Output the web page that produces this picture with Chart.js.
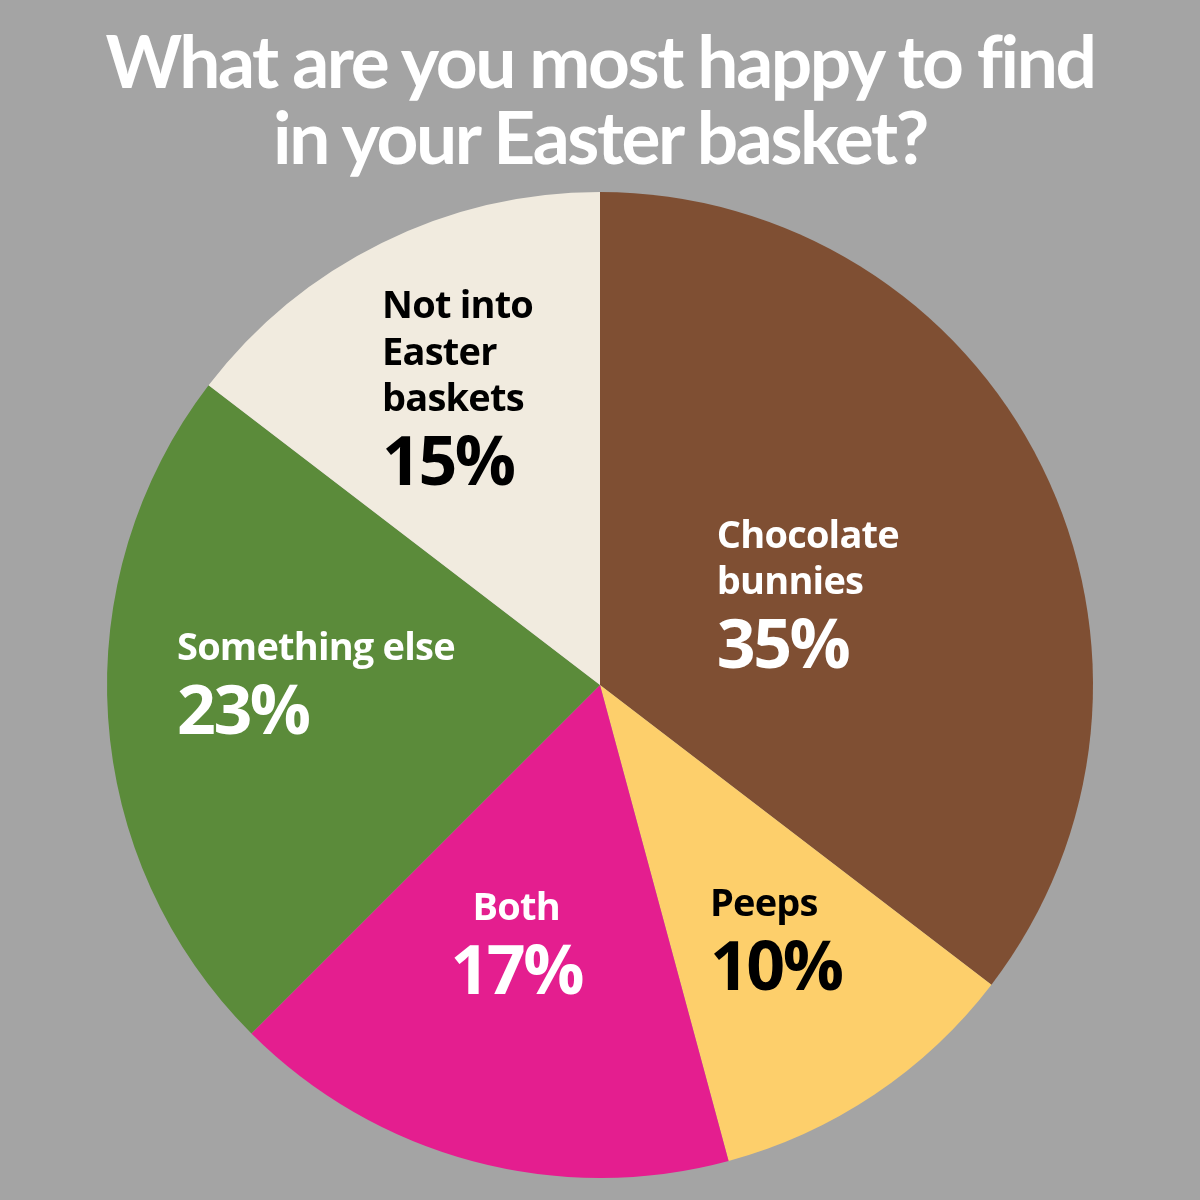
<!DOCTYPE html>
<html>
<head>
  <meta charset="UTF-8">
  <title>Easter Basket Poll</title>
  <script src="https://cdn.jsdelivr.net/npm/chart.js"></script>
  <style>
    html, body {
      margin: 0;
      padding: 0;
      background: #a4a4a4;
      width: 1200px;
      height: 1200px;
      overflow: hidden;
    }
    h1 {
      position: absolute;
      top: 22px;
      left: 0;
      width: 1200px;
      margin: 0;
      text-align: center;
      color: #fff;
      font-family: Lato, sans-serif;
      font-weight: bold;
      font-size: 73px;
      line-height: 76px;
      letter-spacing: -2.4px;
    }
    #wrap {
      position: absolute;
      top: 185px;
      left: 0;
      width: 1200px;
      height: 1000px;
    }
  </style>
</head>
<body>
  <h1>What are you most happy to find<br>in your Easter basket?</h1>
  <div id="wrap"><canvas id="pie"></canvas></div>

  <script>
    const categories = ['Chocolate bunnies', 'Peeps', 'Both', 'Something else', 'Not into Easter baskets'];
    const sliceValues = [35.4, 10.4, 16.7, 22.9, 14.6];
    const percentLabels = ['35%', '10%', '17%', '23%', '15%'];
    const labelLines = [['Chocolate', 'bunnies'], ['Peeps'], ['Both'], ['Something else'], ['Not into', 'Easter', 'baskets']];
    const colors = ['#7f4f33', '#fdcf6b', '#e41e8f', '#5b8b3a', '#f1ebdf'];
    const textColors = ['#ffffff', '#000000', '#ffffff', '#ffffff', '#000000'];

    // where each label block starts, as a share of the radius from the centre
    const spots = [
      { dx: 0.237, dy: -0.278, align: 'left' },
      { dx: 0.223, dy: 0.469, align: 'left' },
      { dx: -0.170, dy: 0.477, align: 'center' },
      { dx: -0.858, dy: -0.051, align: 'left' },
      { dx: -0.442, dy: -0.744, align: 'left' }
    ];

    const sliceLabels = {
      id: 'sliceLabels',
      afterDatasetsDraw(chart) {
        const ctx = chart.ctx;
        const arcs = chart.getDatasetMeta(0).data;
        arcs.forEach((arc, i) => {
          const r = arc.outerRadius;
          const x = arc.x + spots[i].dx * r;
          let y = arc.y + spots[i].dy * r;
          ctx.save();
          ctx.fillStyle = textColors[i];
          ctx.textAlign = spots[i].align;
          ctx.textBaseline = 'alphabetic';
          ctx.font = 'bold 38px "Open Sans", sans-serif';
          ctx.letterSpacing = '-0.8px';
          labelLines[i].forEach((line, k) => {
            ctx.fillText(line, x, y + k * 46.5);
          });
          y += (labelLines[i].length - 1) * 46.5 + 74;
          ctx.font = 'bold 68px "Open Sans", sans-serif';
          ctx.letterSpacing = '-2.5px';
          ctx.fillText(percentLabels[i], x, y);
          ctx.restore();
        });
      }
    };

    new Chart(document.getElementById('pie'), {
      type: 'pie',
      data: {
        labels: categories,
        datasets: [{
          data: sliceValues,
          backgroundColor: colors,
          borderWidth: 0
        }]
      },
      options: {
        responsive: true,
        maintainAspectRatio: false,
        animation: false,
        layout: { padding: 7 },
        plugins: {
          legend: { display: false },
          tooltip: { enabled: false }
        }
      },
      plugins: [sliceLabels]
    });
  </script>
</body>
</html>
